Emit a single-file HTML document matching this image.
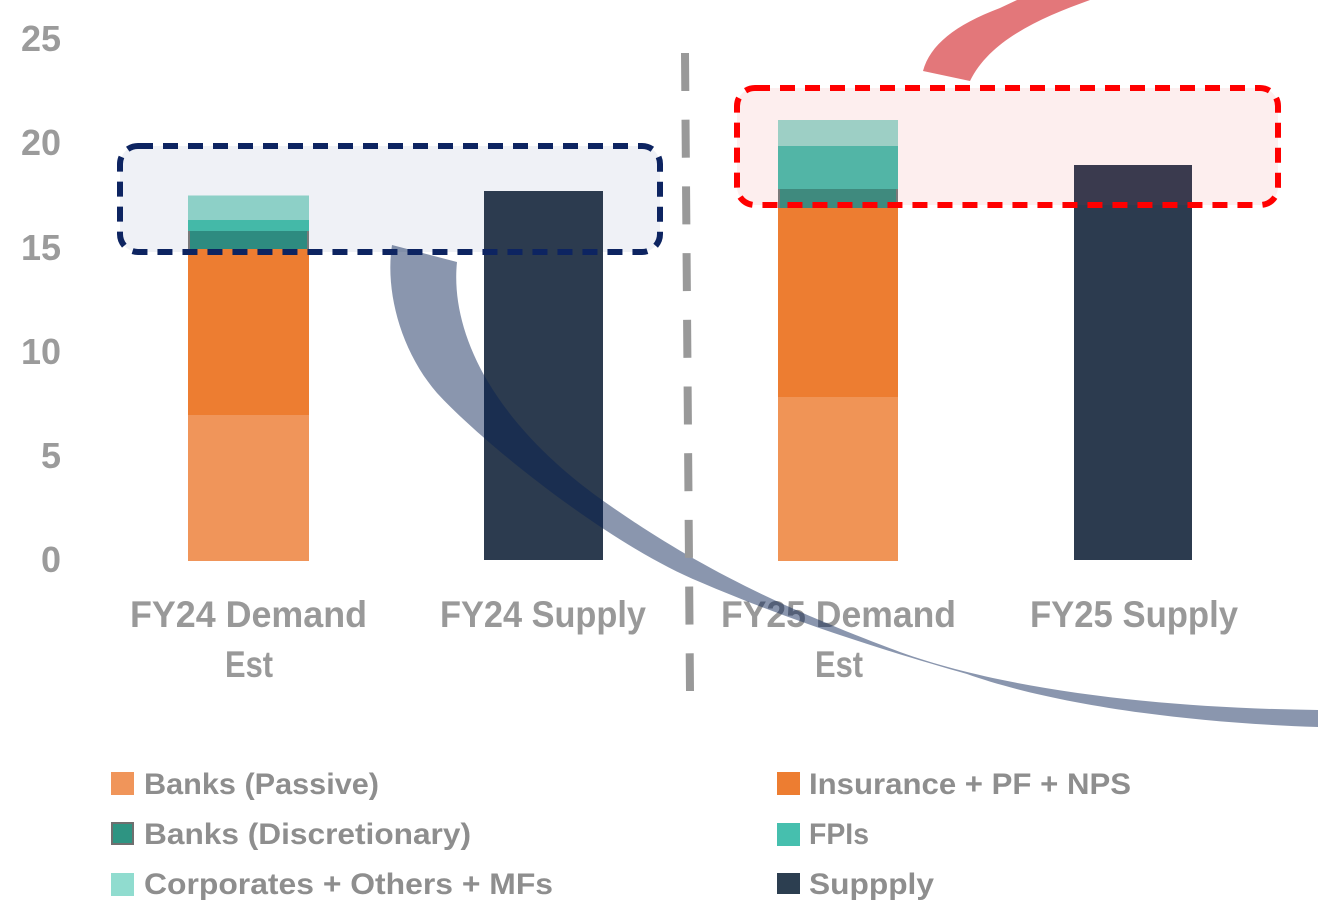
<!DOCTYPE html>
<html><head><meta charset="utf-8"><style>
html,body{margin:0;padding:0;background:#fff;}
svg{display:block;}
text{font-family:"Liberation Sans",Arial,sans-serif;font-weight:bold;}
</style></head><body>
<svg width="1318" height="919" viewBox="0 0 1318 919" xmlns="http://www.w3.org/2000/svg">
<rect width="1318" height="919" fill="#fff"/>
<!-- box fills -->
<rect x="120" y="146" width="540" height="106" rx="18" fill="#eff1f6"/>
<rect x="737" y="88" width="541" height="117" rx="18" fill="#fdeeee"/>

<!-- y labels -->
<g fill="#9b9b9b" font-size="36" text-anchor="end">
<text x="61" y="51">25</text>
<text x="61" y="155">20</text>
<text x="61" y="260">15</text>
<text x="61" y="364">10</text>
<text x="61" y="468">5</text>
<text x="61" y="572">0</text>
</g>

<!-- FY24 Demand -->
<rect x="188" y="415" width="121" height="146" fill="#f0955a"/>
<rect x="188" y="249" width="121" height="166" fill="#ed7d31"/>
<rect x="188" y="231" width="121" height="18" fill="#2e8b80"/>
<rect x="188" y="231" width="2" height="18" fill="#7a7a7a"/>
<rect x="307" y="231" width="2" height="18" fill="#7a7a7a"/>
<rect x="188" y="220" width="121" height="11" fill="#44b9a8"/>
<rect x="188" y="195.5" width="121" height="24.5" fill="#8dd0c7"/>
<!-- FY24 Supply -->
<rect x="484" y="191" width="119" height="369" fill="#2c3b4f"/>
<!-- FY25 Demand -->
<rect x="778" y="397" width="120" height="164" fill="#f09456"/>
<rect x="778" y="208" width="120" height="189" fill="#ed7d31"/>
<rect x="778" y="189" width="120" height="19" fill="#3f8a7e"/>
<rect x="778" y="189" width="2" height="19" fill="#7a7a7a"/>
<rect x="896" y="189" width="2" height="19" fill="#7a7a7a"/>
<rect x="778" y="146" width="120" height="43" fill="#52b5a6"/>
<rect x="778" y="120" width="120" height="26" fill="#9dcfc5"/>
<!-- FY25 Supply -->
<rect x="1074" y="165" width="118" height="395" fill="#2c3b4f"/>
<rect x="1074" y="165" width="118" height="40" fill="#3a3a4e"/>

<!-- category labels -->
<g fill="#999" font-size="37">
<text x="130" y="627" textLength="237" lengthAdjust="spacingAndGlyphs">FY24 Demand</text>
<text x="225" y="677" textLength="48" lengthAdjust="spacingAndGlyphs">Est</text>
<text x="440" y="627" textLength="206" lengthAdjust="spacingAndGlyphs">FY24 Supply</text>
<text x="721" y="627" textLength="235" lengthAdjust="spacingAndGlyphs">FY25 Demand</text>
<text x="815" y="677" textLength="48" lengthAdjust="spacingAndGlyphs">Est</text>
<text x="1030" y="627" textLength="208" lengthAdjust="spacingAndGlyphs">FY25 Supply</text>
</g>

<!-- red arc -->
<path d="M923,71 C930,45 955,25 1000,8 L1017,0 L1090,0 C1040,18 990,40 970,81 Z" fill="#e3777a"/>

<!-- blue arc -->
<path d="M457,262 C450,330 490,420 602,500 C680,555 760,600 900,652 C1000,688 1150,708 1318,710 L1318,727 C1164,722 1040,700 967,674 C900,655 800,625 700,582 C610,545 485,445 437,393 C400,350 385,290 392,245 Z" fill="rgb(6,32,83)" fill-opacity="0.47"/>

<!-- dashed box strokes -->
<rect x="120" y="146" width="540" height="106" rx="18" fill="none" stroke="#0d2461" stroke-width="6" stroke-dasharray="15 10"/>
<rect x="737" y="88" width="541" height="117" rx="18" fill="none" stroke="#ff0000" stroke-width="6" stroke-dasharray="15 10"/>

<!-- divider -->
<line x1="685" y1="53" x2="690" y2="691" stroke="#999" stroke-width="8" stroke-dasharray="38 28.7"/>

<!-- legend -->
<rect x="111" y="772" width="23" height="23" fill="#f0955a"/>
<rect x="112" y="823" width="21" height="21" fill="#2e9482" stroke="#6f6f6f" stroke-width="2"/>
<rect x="111" y="873" width="23" height="23" fill="#90dccf"/>
<rect x="777" y="772" width="23" height="23" fill="#ed7d31"/>
<rect x="777" y="823" width="23" height="23" fill="#46bfae"/>
<rect x="777" y="873" width="23" height="21" fill="#2c3e50"/>
<g fill="#8e8e8e" font-size="30">
<text x="144" y="794" textLength="235" lengthAdjust="spacingAndGlyphs">Banks (Passive)</text>
<text x="144" y="844" textLength="327" lengthAdjust="spacingAndGlyphs">Banks (Discretionary)</text>
<text x="144" y="894" textLength="409" lengthAdjust="spacingAndGlyphs">Corporates + Others + MFs</text>
<text x="809" y="794" textLength="322" lengthAdjust="spacingAndGlyphs">Insurance + PF + NPS</text>
<text x="809" y="844" textLength="60" lengthAdjust="spacingAndGlyphs">FPIs</text>
<text x="809" y="894" textLength="125" lengthAdjust="spacingAndGlyphs">Suppply</text>
</g>
</svg>
</body></html>
